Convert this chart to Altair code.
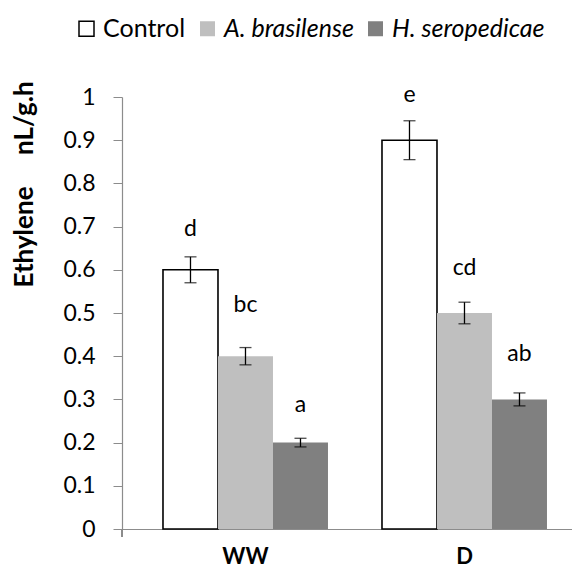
import altair as alt
import pandas as pd

# ---- data ----
groups = ["WW", "D"]
series = ["Control", "A. brasilense", "H. seropedicae"]
means_ww = [0.60, 0.40, 0.20]
means_d = [0.90, 0.50, 0.30]
errs_ww = [0.030, 0.020, 0.010]
errs_d = [0.045, 0.025, 0.015]
letters_ww = ["d", "bc", "a"]
letters_d = ["e", "cd", "ab"]
letter_level_ww = [0.678, 0.503, 0.270]
letter_level_d = [0.988, 0.588, 0.390]
y_ticks = [0, 0.1, 0.2, 0.3, 0.4, 0.5, 0.6, 0.7, 0.8, 0.9, 1.0]

fills = ["#ffffff", "#bfbfbf", "#808080"]
strokes = ["#000000", "transparent", "transparent"]

rows = []
for g, ms, es, ls, lv in [("WW", means_ww, errs_ww, letters_ww, letter_level_ww),
                          ("D", means_d, errs_d, letters_d, letter_level_d)]:
    for s, m, e, l, v in zip(series, ms, es, ls, lv):
        rows.append({"group": g, "series": s, "mean": m,
                     "lo": m - e, "hi": m + e, "letter": l, "level": v})
df = pd.DataFrame(rows)

FONT = "Lato"
AX = "#8c8c8c"

x_enc = alt.X("group:N", sort=groups,
              scale=alt.Scale(paddingInner=0.2466, paddingOuter=0.1507, align=0.621),
              axis=alt.Axis(title=None, ticks=False, tickSize=0, labelAngle=0,
                            labelFontSize=22, labelFontWeight="bold", labelColor="black",
                            labelPadding=17, domainColor=AX, domainWidth=1.2))
xo_enc = alt.XOffset("series:N", sort=series,
                     scale=alt.Scale(paddingInner=0, paddingOuter=0))
y_scale = alt.Scale(domain=[0, 1], nice=False)

legend_kw = dict(title=None, orient="none", direction="horizontal",
                 legendX=-48, legendY=-81, symbolType="square",
                 symbolSize=225, symbolStrokeWidth=1.5,
                 labelColor="black", labelOffset=4, columnPadding=9,
                 labelFontSize=25,
                 labelFontStyle={"expr": "datum.value === 'Control' ? 'normal' : 'italic'"})

base = alt.Chart(df)

bars = base.mark_bar(strokeWidth=1.6).encode(
    x=x_enc,
    xOffset=xo_enc,
    y=alt.Y("mean:Q", scale=y_scale,
            axis=alt.Axis(values=y_ticks, format=".1~f", grid=False,
                          title="Ethylene\u00a0\u00a0\u00a0\u00a0 nL/g.h", titleFontSize=26,
                          titleFontWeight="bold", titleColor="black", titleAngle=270,
                          titleAlign="left", titleBaseline="alphabetic",
                          titleX=-90, titleY=190,
                          labelFontSize=23, labelColor="black", labelPadding=18,
                          tickSize=9, tickColor=AX, domainColor=AX, domainWidth=1.2)),
    fill=alt.Fill("series:N", sort=series,
                  scale=alt.Scale(domain=series, range=fills),
                  legend=alt.Legend(**legend_kw)),
    stroke=alt.Stroke("series:N", sort=series,
                      scale=alt.Scale(domain=series, range=strokes),
                      legend=alt.Legend(**legend_kw)),
)

err_rule = base.mark_rule(color="black", strokeWidth=1.3).encode(
    x=alt.X("group:N", sort=groups), xOffset=alt.XOffset("series:N", sort=series),
    y="lo:Q", y2="hi:Q")
cap_hi = base.mark_tick(color="black", size=12, thickness=1.3, orient="horizontal").encode(
    x=alt.X("group:N", sort=groups), xOffset=alt.XOffset("series:N", sort=series), y="hi:Q")
cap_lo = base.mark_tick(color="black", size=12, thickness=1.3, orient="horizontal").encode(
    x=alt.X("group:N", sort=groups), xOffset=alt.XOffset("series:N", sort=series), y="lo:Q")

labels = base.mark_text(fontSize=23, color="black", baseline="alphabetic", align="center").encode(
    x=alt.X("group:N", sort=groups), xOffset=alt.XOffset("series:N", sort=series),
    y="level:Q", text="letter:N")

corner = alt.Chart(df).mark_rule(color=AX, strokeWidth=1.2).encode(
    x=alt.value(0), y=alt.value(432), y2=alt.value(440))

chart = alt.layer(bars, err_rule, cap_hi, cap_lo, labels, corner).properties(
    width=450, height=432,
    autosize=alt.AutoSizeParams(type="none"),
    padding={"left": 114, "top": 89, "right": 0, "bottom": 40},
).configure(font=FONT).configure_view(stroke=None)

chart.save("out.html", embed_options={"renderer": "svg", "actions": False})
